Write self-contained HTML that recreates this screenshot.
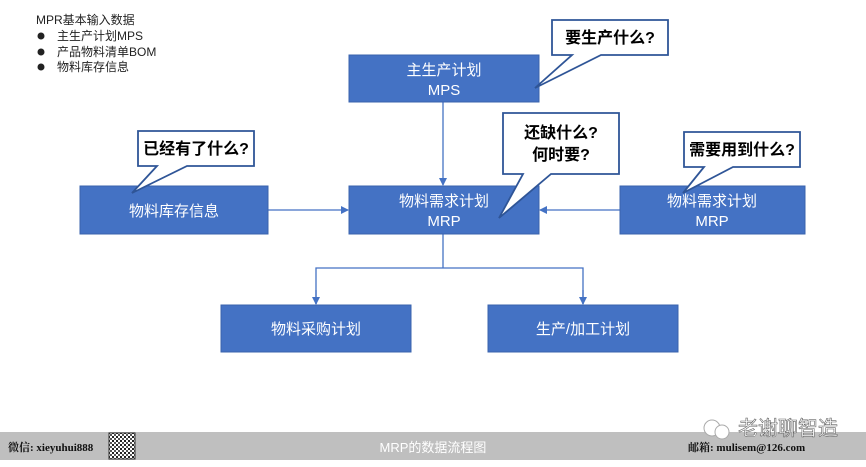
<!DOCTYPE html>
<html><head><meta charset="utf-8"><style>
body{margin:0;background:#fff;}
svg{display:block;font-family:"Liberation Sans","Noto Sans CJK SC",sans-serif;}
</style></head><body>
<svg width="866" height="467" viewBox="0 0 866 467" xmlns="http://www.w3.org/2000/svg">
<defs><marker id="a" markerWidth="8" markerHeight="8" refX="7" refY="4" orient="auto" markerUnits="userSpaceOnUse"><path d="M0,0 L8,4 L0,8 z" fill="#4472c4"/></marker>
<pattern id="q" width="4" height="4" patternUnits="userSpaceOnUse"><rect width="4" height="4" fill="#fff"/><rect width="2" height="2" fill="#222"/><rect x="2" y="2" width="2" height="2" fill="#555"/></pattern></defs>
<g font-size="12" fill="#222">
<text x="36" y="24">MPR基本输入数据</text>
<circle cx="41" cy="36" r="3.5"/><text x="57" y="40">主生产计划MPS</text>
<circle cx="41" cy="52" r="3.5"/><text x="57" y="56">产品物料清单BOM</text>
<circle cx="41" cy="67" r="3.5"/><text x="57" y="71">物料库存信息</text>
</g>
<g stroke="#4472c4" stroke-width="1.3" fill="none">
<line x1="443" y1="102" x2="443" y2="185" marker-end="url(#a)"/>
<line x1="268" y1="210" x2="348" y2="210" marker-end="url(#a)"/>
<line x1="620" y1="210" x2="540" y2="210" marker-end="url(#a)"/>
<polyline points="443,234 443,268"/>
<polyline points="316,304 316,268 583,268 583,304"/>
<line x1="316" y1="290" x2="316" y2="304" marker-end="url(#a)"/>
<line x1="583" y1="290" x2="583" y2="304" marker-end="url(#a)"/>
</g>
<g fill="#4472c4" stroke="#3a63ad" stroke-width="1">
<rect x="349" y="55" width="190" height="47"/>
<rect x="80" y="186" width="188" height="48"/>
<rect x="349" y="186" width="190" height="48"/>
<rect x="620" y="186" width="185" height="48"/>
<rect x="221" y="305" width="190" height="47"/>
<rect x="488" y="305" width="190" height="47"/>
</g>
<g fill="#fff" font-size="15" text-anchor="middle">
<text x="444" y="75">主生产计划</text><text x="444" y="95">MPS</text>
<text x="174" y="216">物料库存信息</text>
<text x="444" y="206">物料需求计划</text><text x="444" y="226">MRP</text>
<text x="712" y="206">物料需求计划</text><text x="712" y="226">MRP</text>
<text x="316" y="334">物料采购计划</text>
<text x="583" y="334">生产/加工计划</text>
</g>
<g fill="#fff" stroke="#2f5597" stroke-width="1.8" stroke-linejoin="miter">
<path d="M552,20 H668 V55 H601 L535,88 L572,55 H552 Z"/>
<path d="M138,131 H254 V166 H187 L132,193 L157,166 H138 Z"/>
<path d="M503,113 H619 V174 H551 L499,218 L523,174 H503 Z"/>
<path d="M684,132 H800 V167 H733 L683,193 L704,167 H684 Z"/>
</g>
<g fill="#000" font-size="16" font-weight="bold" text-anchor="middle">
<text x="610" y="43">要生产什么?</text>
<text x="196" y="154">已经有了什么?</text>
<text x="561" y="138">还缺什么?</text>
<text x="561" y="160">何时要?</text>
<text x="742" y="155">需要用到什么?</text>
</g>
<rect x="0" y="432" width="866" height="28" fill="#bfbfbf"/>
<g font-family="Liberation Serif,Noto Serif CJK SC,serif" font-size="11" font-weight="bold" fill="#111">
<text x="8" y="451">微信: xieyuhui888</text>
<text x="688" y="451">邮箱: mulisem@126.com</text>
</g>
<rect x="109" y="433" width="26" height="26" fill="url(#q)" stroke="#333" stroke-width="1"/>
<text x="433" y="452" text-anchor="middle" fill="#fff" font-size="13">MRP的数据流程图</text>
<circle cx="712" cy="428" r="8" fill="#fff" stroke="#aaa"/>
<circle cx="722" cy="432" r="7" fill="#fff" stroke="#aaa"/>
<text x="738" y="435" font-size="20" fill="#fff" stroke="#666" stroke-width="0.6">老谢聊智造</text>
</svg>
</body></html>
